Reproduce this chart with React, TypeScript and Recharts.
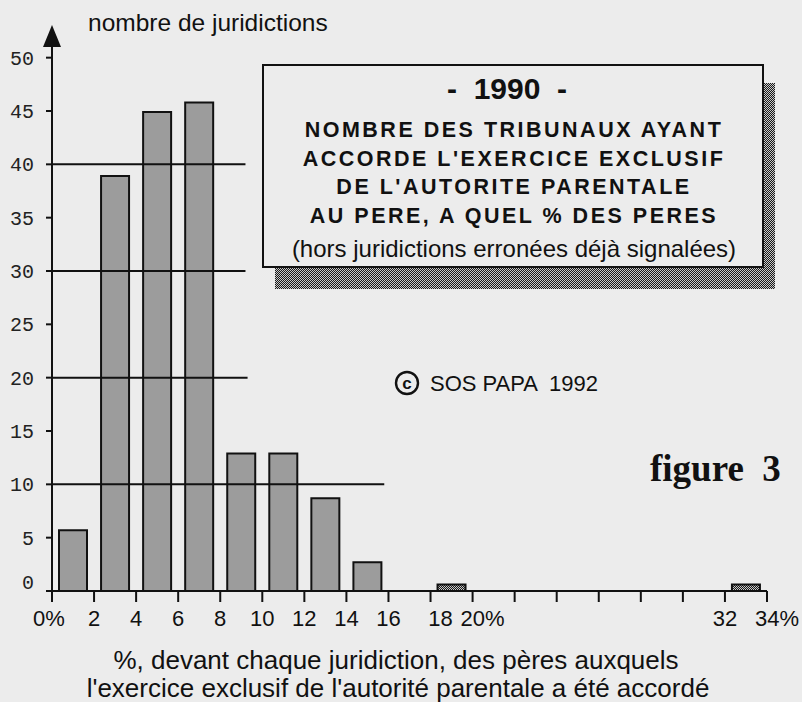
import React from "react";
import { BarChart, Bar, XAxis, YAxis, ReferenceLine, Cell } from "recharts";

// classes de 2 % : milieu de chaque classe
const classMids = [1, 3, 5, 7, 9, 11, 13, 15, 17, 19, 21, 23, 25, 27, 29, 31, 33];
const courtCounts = [5.7, 38.9, 44.9, 45.8, 12.9, 12.9, 8.7, 2.7, 0, 0.6, 0, 0, 0, 0, 0, 0, 0.6];

const xTicks = [0, 2, 4, 6, 8, 10, 12, 14, 16, 18, 20, 22, 24, 26, 28, 30, 32, 34];
const xTickLabels = ["0%", "2", "4", "6", "8", "10", "12", "14", "16", "18", "20%", "", "", "", "", "", "32", "34%"];
const yTicks = [0, 5, 10, 15, 20, 25, 30, 35, 40, 45, 50];

const gridLevels = [40, 30, 20, 10];
const gridEnds = [9.2, 9.2, 9.3, 15.8];

const boxLines = [
  "NOMBRE DES TRIBUNAUX AYANT",
  "ACCORDE L'EXERCICE EXCLUSIF",
  "DE L'AUTORITE PARENTALE",
  "AU PERE, A QUEL % DES PERES",
];

const data = classMids.map((mid, i) => ({ mid, count: courtCounts[i] }));

const SANS = "'Liberation Sans', Arial, sans-serif";
const BG = "#ececec";

const YTick = (props: any) => {
  const { x, y, payload } = props;
  const shift = payload.value === 0 ? -9 : 0;
  return (
    <text x={x} y={y + shift} dy="0.35em" textAnchor="end" fontFamily="'Liberation Mono', monospace" fontSize={20} fill="#222">
      {payload.value}
    </text>
  );
};

const XTick = (props: any) => {
  const { x, y, payload } = props;
  const label = xTickLabels[xTicks.indexOf(payload.value)];
  if (!label) return <g />;
  const trailingPct = label.endsWith("%") && payload.value !== 0;
  let tx = trailingPct ? x - 12 : x;
  if (payload.value === 0) tx = x - 3;
  if (payload.value === 18) tx = x + 10;
  return (
    <text x={tx} y={y} dy="0.71em" textAnchor={trailingPct ? "start" : "middle"} fontFamily={SANS} fontSize={22} fill="#111">
      {label}
    </text>
  );
};

const YTitle = (props: any) => {
  const vb = props.viewBox || {};
  const ax = vb.x + vb.width;
  const top = vb.y;
  return (
    <g>
      <polygon points={`${ax},${top - 22} ${ax - 9},${top} ${ax + 9},${top}`} fill="#111" />
      <text x={ax + 36} y={top - 16} fontFamily={SANS} fontSize={24.5} fill="#111">
        nombre de juridictions
      </text>
    </g>
  );
};

const XTitle = () => (
  <g>
    <text x={396} y={669} textAnchor="middle" fontFamily={SANS} fontSize={26} fill="#111">
      %, devant chaque juridiction, des pères auxquels
    </text>
    <text x={398} y={697} textAnchor="middle" fontFamily={SANS} fontSize={26} fill="#111">
      l'exercice exclusif de l'autorité parentale a été accordé
    </text>
  </g>
);

export default function App() {
  return (
    <div style={{ position: "absolute", left: 0, top: 0, width: 802, height: 702, background: BG }}>
      <BarChart width={802} height={702} data={data} margin={{ top: 47, right: 35, left: 0, bottom: 81 }}>
        <defs>
          <pattern id="dark" width="2" height="2" patternUnits="userSpaceOnUse">
            <rect width="2" height="2" fill="#1a1a1a" />
            <rect width="1" height="1" fill="#c8c8c8" />
            <rect x="1" y="1" width="1" height="1" fill="#c8c8c8" />
          </pattern>
        </defs>
        <XAxis
          dataKey="mid"
          type="number"
          domain={[0, 34]}
          ticks={xTicks}
          interval={0}
          height={30}
          tickSize={11}
          tickMargin={8}
          axisLine={{ stroke: "#111", strokeWidth: 2 }}
          tickLine={{ stroke: "#111", strokeWidth: 2 }}
          tick={<XTick />}
          label={{ content: <XTitle /> }}
        />
        <YAxis
          type="number"
          domain={[0, 51]}
          ticks={yTicks}
          interval={0}
          width={52}
          tickSize={6}
          tickMargin={12}
          axisLine={{ stroke: "#111", strokeWidth: 2 }}
          tickLine={{ stroke: "#111", strokeWidth: 2 }}
          tick={<YTick />}
          label={{ content: <YTitle /> }}
        />
        {gridLevels.map((lv, i) => (
          <ReferenceLine
            key={lv}
            segment={[{ x: 0, y: lv }, { x: gridEnds[i], y: lv }]}
            stroke="#111"
            strokeWidth={2}
          />
        ))}
        <Bar dataKey="count" barSize={28} stroke="#111" strokeWidth={2} isAnimationActive={false}>
          {data.map((d, i) => (
            <Cell key={i} fill={d.count < 1 ? "url(#dark)" : "#9c9c9c"} />
          ))}
        </Bar>
      </BarChart>

      <svg width={802} height={702} style={{ position: "absolute", left: 0, top: 0, pointerEvents: "none" }}>
        <rect x={275} y={83} width={500} height={206} fill="url(#dark)" />
        <rect x={263} y={65} width={500} height={202} fill={BG} stroke="#111" strokeWidth={2} />
        <text x={507} y={99} textAnchor="middle" fontFamily={SANS} fontWeight="bold" fontSize={30} fill="#111" style={{ whiteSpace: "pre" }}>
          {"-  1990  -"}
        </text>
        {boxLines.map((t, i) => (
          <text key={t} x={514} y={137 + i * 28.7} textAnchor="middle" fontFamily={SANS} fontWeight="bold" fontSize={21.5} letterSpacing={2.5} fill="#111">
            {t}
          </text>
        ))}
        <text x={514} y={257} textAnchor="middle" fontFamily={SANS} fontSize={24} fill="#111">
          (hors juridictions erronées déjà signalées)
        </text>

        <circle cx={407} cy={383} r={11} fill="none" stroke="#111" strokeWidth={2.4} />
        <text x={407} y={389} textAnchor="middle" fontFamily={SANS} fontWeight="bold" fontSize={17} fill="#111">c</text>
        <text x={430} y={391} fontFamily={SANS} fontSize={22} fill="#111" style={{ whiteSpace: "pre" }}>
          SOS PAPA  1992
        </text>

        <text x={650} y={481} fontFamily="'Liberation Serif', 'Times New Roman', serif" fontWeight="bold" fontSize={37} fill="#111" style={{ whiteSpace: "pre" }}>
          figure  3
        </text>
      </svg>
    </div>
  );
}
